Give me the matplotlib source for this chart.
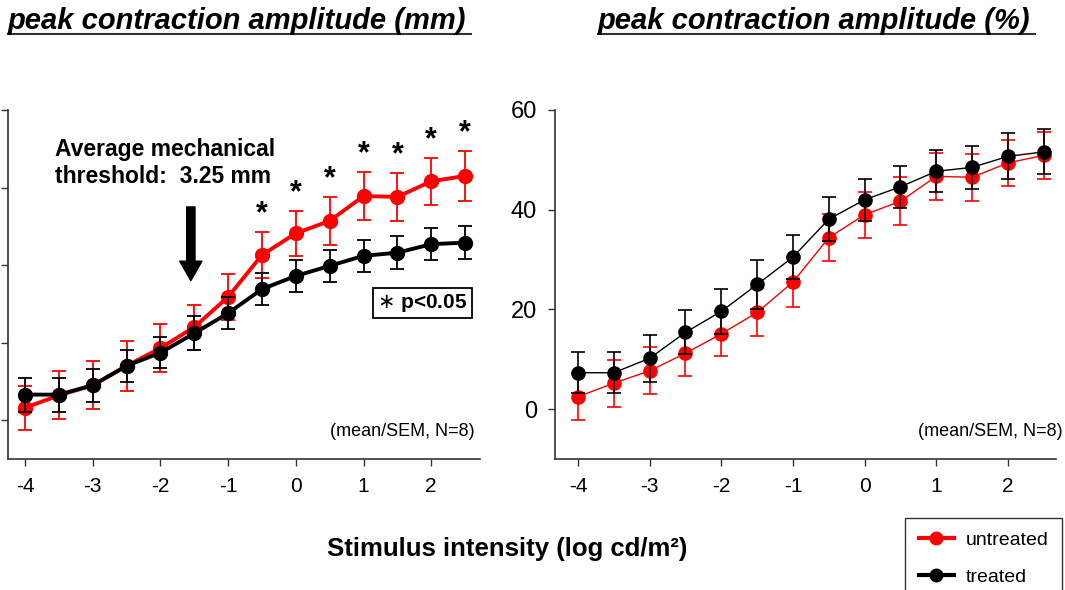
import matplotlib
matplotlib.use("Agg")
import matplotlib.pyplot as plt
from matplotlib.lines import Line2D

plt.rcParams['font.family'] = ['Liberation Sans', 'DejaVu Sans']
plt.rcParams['axes.unicode_minus'] = False

# stimulus intensity (log cd/m2)
intensity = [-4, -3.5, -3, -2.5, -2, -1.5, -1, -0.5, 0, 0.5, 1, 1.5, 2, 2.5]

# left panel: peak contraction amplitude (mm)
mm_untreated = [0.016, 0.032, 0.045, 0.070, 0.093, 0.120, 0.159, 0.213, 0.241, 0.257, 0.289, 0.288, 0.308, 0.315]
mm_untreated_sem = [0.028, 0.031, 0.031, 0.032, 0.031, 0.029, 0.030, 0.030, 0.029, 0.031, 0.031, 0.031, 0.030, 0.032]
mm_treated = [0.033, 0.033, 0.045, 0.070, 0.087, 0.112, 0.138, 0.169, 0.186, 0.199, 0.212, 0.216, 0.227, 0.229]
mm_treated_sem = [0.022, 0.022, 0.021, 0.021, 0.020, 0.022, 0.021, 0.021, 0.021, 0.021, 0.021, 0.021, 0.021, 0.021]
significant = [-0.5, 0, 0.5, 1, 1.5, 2, 2.5]

# right panel: peak contraction amplitude (%)
pct_untreated = [2.5, 5.2, 7.7, 11.2, 15.1, 19.4, 25.5, 34.4, 39.0, 41.7, 46.7, 46.5, 49.4, 50.9]
pct_untreated_sem = [4.7, 4.7, 4.7, 4.5, 4.5, 4.8, 5.0, 4.7, 4.6, 4.8, 4.7, 4.7, 4.6, 4.7]
pct_treated = [7.3, 7.3, 10.2, 15.4, 19.6, 25.0, 30.5, 38.1, 42.0, 44.6, 47.7, 48.5, 50.7, 51.6]
pct_treated_sem = [4.1, 4.1, 4.7, 4.4, 4.5, 4.9, 4.4, 4.4, 4.2, 4.2, 4.2, 4.3, 4.6, 4.5]

W, H = 1065, 590
fig = plt.figure(figsize=(W / 100, H / 100), dpi=100)
ax1 = fig.add_axes([8 / W, 131 / H, 472 / W, 349 / H])
ax2 = fig.add_axes([555 / W, 131 / H, 501 / W, 349 / H])

RED = '#ff0000'


def style(ax):
    for s in ('top', 'right'):
        ax.spines[s].set_visible(False)
    for s in ('left', 'bottom'):
        ax.spines[s].set_color('#333333')
        ax.spines[s].set_linewidth(1.2)
    ax.tick_params(direction='out', length=5, width=1, color='#333333', labelsize=15, pad=8)
    ax.set_xticks([-4, -3, -2, -1, 0, 1, 2])


# left panel
ax1.errorbar(intensity, mm_untreated, yerr=mm_untreated_sem, color=RED, lw=2.8, marker='o', ms=10,
             elinewidth=1.3, capsize=5, capthick=1.3, zorder=3)
ax1.errorbar(intensity, mm_treated, yerr=mm_treated_sem, color='black', lw=2.8, marker='o', ms=10,
             elinewidth=1.3, capsize=5, capthick=1.3, zorder=4)
ax1.set_xlim(-4.25, 2.72)
ax1.set_ylim(-0.05, 0.4)
ax1.set_yticks([0, 0.1, 0.2, 0.3, 0.4])
ax1.set_yticklabels([])
style(ax1)

for x in significant:
    i = intensity.index(x)
    ax1.annotate('*', (x, mm_untreated[i] + mm_untreated_sem[i]), xytext=(0, 2),
                 textcoords='offset points', ha='center', va='bottom', fontsize=22, fontweight='bold')

ax1.text(-3.56, 0.364, 'Average mechanical\nthreshold:  3.25 mm', ha='left', va='top',
         fontsize=16.5, fontweight='bold', linespacing=1.25)
ax1.annotate('', xy=(-1.55, 0.180), xytext=(-1.55, 0.275),
             arrowprops=dict(facecolor='black', edgecolor='black', width=6, headwidth=16, headlength=14))
ax1.text(1.87, 0.151, r'$\ast$ p<0.05', ha='center', va='center', fontsize=15, fontweight='bold',
         bbox=dict(boxstyle='square,pad=0.2', facecolor='white', edgecolor='black', lw=1.3))

# right panel
ax2.errorbar(intensity, pct_untreated, yerr=pct_untreated_sem, color=RED, lw=1.0, marker='o', ms=9.5,
             elinewidth=1.2, capsize=5, capthick=1.2, zorder=3)
ax2.errorbar(intensity, pct_treated, yerr=pct_treated_sem, color='black', lw=1.0, marker='o', ms=9.5,
             elinewidth=1.2, capsize=5, capthick=1.2, zorder=4)
ax2.set_xlim(-4.32, 2.67)
ax2.set_ylim(-10, 60)
ax2.set_yticks([0, 20, 40, 60])
style(ax2)
ax2.tick_params(axis='y', labelsize=17)

# texts
fig.text(475 / W, 1 - 432 / H, '(mean/SEM, N=8)', ha='right', va='center', fontsize=13)
fig.text(1063 / W, 1 - 432 / H, '(mean/SEM, N=8)', ha='right', va='center', fontsize=13)
fig.text(507 / W, 1 - 549 / H, 'Stimulus intensity (log cd/m²)', ha='center', va='center',
         fontsize=18.5, fontweight='bold')

titles = [
    fig.text(8 / W, 1 - 21 / H, 'peak contraction amplitude (mm)', ha='left', va='center',
             fontsize=21, fontweight='bold', fontstyle='italic'),
    fig.text(598 / W, 1 - 21 / H, 'peak contraction amplitude (%)', ha='left', va='center',
             fontsize=21, fontweight='bold', fontstyle='italic'),
]

handles = [
    Line2D([], [], color=RED, lw=3, marker='o', ms=9),
    Line2D([], [], color='black', lw=3, marker='o', ms=9),
]
leg = fig.legend(handles, ['untreated', 'treated'], loc='upper left', bbox_to_anchor=(905 / W, 1 - 518 / H),
                 borderaxespad=0, frameon=True, fancybox=False, edgecolor='black', fontsize=14,
                 handlelength=1.8, borderpad=0.7, labelspacing=1.0, handletextpad=0.6)
leg.get_frame().set_linewidth(1.0)

# underline the titles
fig.canvas.draw()
renderer = fig.canvas.get_renderer()
for t in titles:
    bb = t.get_window_extent(renderer)
    y = bb.y0 + 1
    fig.add_artist(Line2D([bb.x0 / W, (bb.x1 + 4) / W], [y / H, y / H], color='#333333', lw=1.5,
                          transform=fig.transFigure))

fig.savefig('out.png', dpi=100)
